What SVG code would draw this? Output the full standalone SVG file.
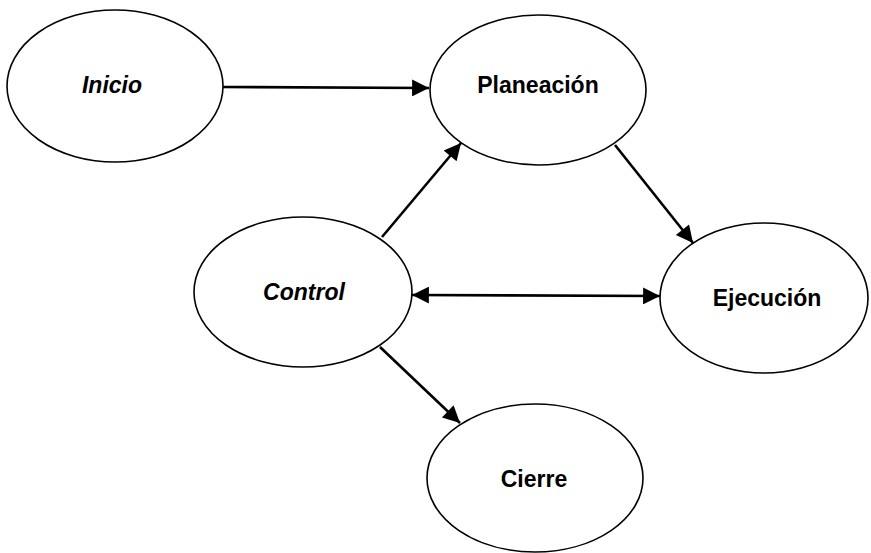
<svg xmlns="http://www.w3.org/2000/svg" width="871" height="553" viewBox="0 0 871 553">
<defs>
<style>
.node ellipse{fill:#fff;stroke:#000;stroke-width:1.6}
.node text{font-family:"Liberation Sans",Arial,sans-serif;font-weight:bold;font-size:23px;fill:#000;text-anchor:middle}
.it{font-style:italic}
.conn line{stroke:#000;stroke-width:2.6}
</style>
<marker id="ah" viewBox="0 0 10 10" refX="10" refY="5" markerWidth="8.5" markerHeight="6.5" markerUnits="strokeWidth" orient="auto-start-reverse">
<path d="M0,0 L10,5 L0,10 z" fill="#000"/>
</marker>
</defs>
<rect width="871" height="553" fill="#fff"/>
<g id="connectors" class="conn">
<line x1="223" y1="87" x2="429" y2="88" marker-end="url(#ah)"/>
<line x1="382" y1="237" x2="461" y2="143" marker-end="url(#ah)"/>
<line x1="615" y1="145" x2="693" y2="243" marker-end="url(#ah)"/>
<line x1="412" y1="295" x2="660" y2="296" marker-start="url(#ah)" marker-end="url(#ah)"/>
<line x1="380" y1="347" x2="460" y2="423" marker-end="url(#ah)"/>
</g>
<g id="inicio" class="node"><ellipse cx="115" cy="86" rx="108" ry="76"/><text x="112" y="93" class="it">Inicio</text></g>
<g id="planeacion" class="node"><ellipse cx="538" cy="90" rx="108" ry="75"/><text x="538" y="93">Planeación</text></g>
<g id="control" class="node"><ellipse cx="303" cy="292" rx="109" ry="75"/><text x="304" y="300" class="it">Control</text></g>
<g id="ejecucion" class="node"><ellipse cx="764" cy="298" rx="104" ry="75"/><text x="767" y="306">Ejecución</text></g>
<g id="cierre" class="node"><ellipse cx="535" cy="478" rx="108" ry="74"/><text x="534" y="487">Cierre</text></g>
</svg>
